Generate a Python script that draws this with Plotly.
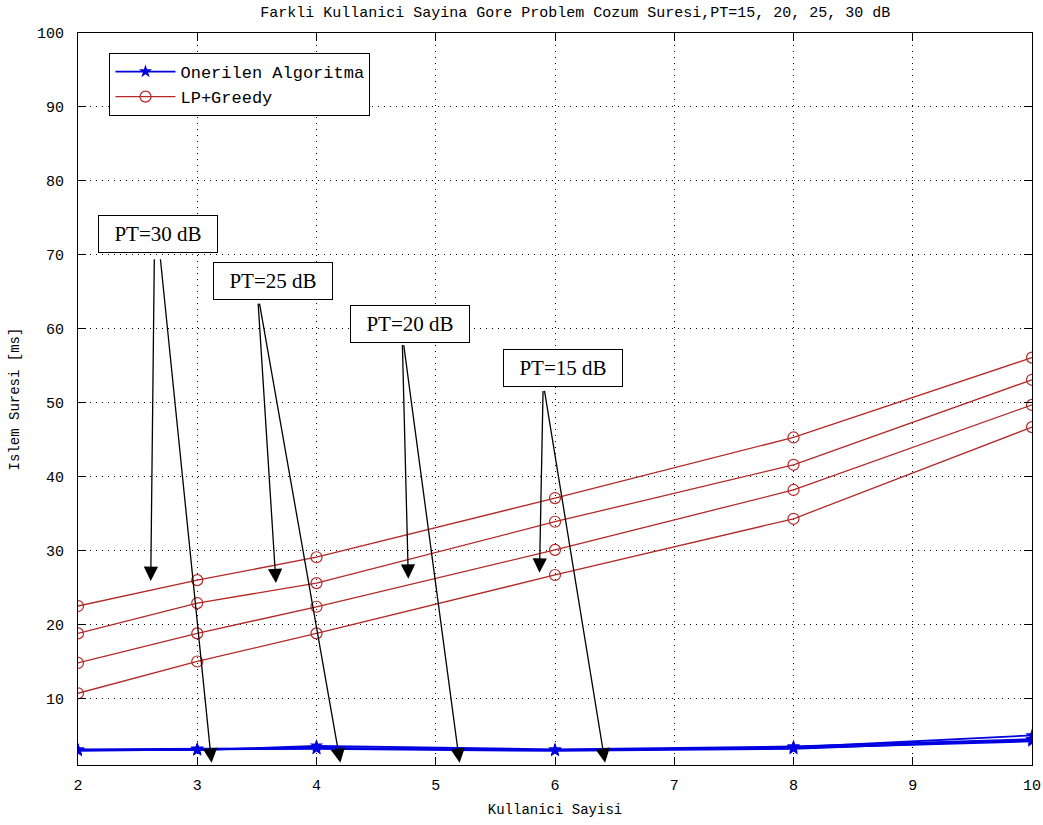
import plotly.graph_objects as go

# Number of users (x axis)
users = [2, 3, 4, 6, 8, 10]

# Proposed algorithm solution time [ms], one series per PT level
proposed_pt15 = [2.9, 3.1, 3.3, 3.0, 3.3, 4.2]
proposed_pt20 = [3.0, 3.0, 3.6, 3.1, 3.5, 4.5]
proposed_pt25 = [3.1, 3.2, 3.3, 3.0, 3.4, 5.0]
proposed_pt30 = [3.0, 3.1, 3.2, 2.9, 3.2, 4.4]

# LP+Greedy solution time [ms], one series per PT level
lpg_pt15 = [10.7, 15.0, 18.8, 26.7, 34.3, 46.7]
lpg_pt20 = [14.8, 18.8, 22.4, 30.1, 38.2, 49.7]
lpg_pt25 = [18.8, 22.9, 25.6, 33.9, 41.6, 53.1]
lpg_pt30 = [22.5, 26.0, 29.1, 37.1, 45.3, 56.1]

x_ticks = [2, 3, 4, 5, 6, 7, 8, 9, 10]
y_ticks = [10, 20, 30, 40, 50, 60, 70, 80, 90, 100]

# PT labels: text box centre, arrow tails, and two arrow heads (red / blue curves)
pt_labels = ["PT=30 dB", "PT=25 dB", "PT=20 dB", "PT=15 dB"]
label_pos = [(2.667, 72.8), (3.631, 66.4), (4.78, 60.7), (6.071, 54.7)]
arrow_tail_red = [(2.64, 69.6), (3.51, 63.6), (4.72, 58.0), (5.90, 51.8)]
arrow_tail_blue = [(2.69, 69.6), (3.52, 63.6), (4.73, 58.0), (5.91, 51.8)]
arrow_head_red = [(2.61, 25.9), (3.66, 25.6), (4.77, 26.2), (5.87, 27.0)]
arrow_head_blue = [(3.12, 1.3), (4.20, 1.3), (5.20, 1.3), (6.42, 1.3)]

BLUE = "rgb(0,0,225)"
RED = "rgb(180,40,40)"
MONO = "Liberation Mono, DejaVu Sans Mono, monospace"

fig = go.Figure()

for i, ys in enumerate([proposed_pt15, proposed_pt20, proposed_pt25, proposed_pt30]):
    fig.add_trace(go.Scatter(
        x=users, y=ys, mode="lines+markers",
        name="Onerilen Algoritma", legendgroup="prop", showlegend=(i == 0),
        line=dict(color=BLUE, width=1.8),
        marker=dict(symbol="star", size=10, color=BLUE),
    ))

for i, ys in enumerate([lpg_pt15, lpg_pt20, lpg_pt25, lpg_pt30]):
    fig.add_trace(go.Scatter(
        x=users, y=ys, mode="lines+markers",
        name="LP+Greedy", legendgroup="lpg", showlegend=(i == 0),
        line=dict(color=RED, width=1.3),
        marker=dict(symbol="circle-open", size=11, color=RED, line=dict(width=1.2)),
    ))

annotations = []
for lbl, (lx, ly), tr, tb, hr, hb in zip(
        pt_labels, label_pos, arrow_tail_red, arrow_tail_blue,
        arrow_head_red, arrow_head_blue):
    for (tx, ty), (hx, hy) in [(tr, hr), (tb, hb)]:
        annotations.append(dict(
            x=hx, y=hy, ax=tx, ay=ty, xref="x", yref="y", axref="x", ayref="y",
            text="", showarrow=True, arrowhead=2, arrowsize=2.2, arrowwidth=1.3,
            arrowcolor="black",
        ))
    annotations.append(dict(
        x=lx, y=ly, xref="x", yref="y", text=lbl, showarrow=False,
        font=dict(family="Liberation Serif, DejaVu Serif, serif", size=21, color="black"),
        width=110, height=28, align="center",
        bgcolor="white", bordercolor="black", borderwidth=1, borderpad=4,
    ))

fig.update_layout(
    width=1043, height=825,
    margin=dict(l=78, r=11, t=33, b=60),
    paper_bgcolor="white", plot_bgcolor="white",
    title=dict(text="Farkli Kullanici Sayina Gore Problem Cozum Suresi,PT=15, 20, 25, 30 dB",
               x=0.5515, xanchor="center", y=0.992, yanchor="top",
               font=dict(family=MONO, size=15, color="black")),
    font=dict(family=MONO, size=14, color="black"),
    legend=dict(x=0.033, y=0.9727, xanchor="left", yanchor="top",
                bgcolor="white", bordercolor="black", borderwidth=1,
                font=dict(family=MONO, size=17, color="black"),
                tracegroupgap=0, itemwidth=60),
    annotations=annotations,
    showlegend=True,
)

fig.update_xaxes(
    range=[2, 10], tickvals=x_ticks, ticktext=[str(v) for v in x_ticks],
    title=dict(text="Kullanici Sayisi", font=dict(family=MONO, size=14), standoff=10),
    showline=True, linecolor="black", linewidth=1, mirror="ticks",
    ticks="inside", ticklen=8, tickcolor="black", ticklabelstandoff=6,
    tickfont=dict(family=MONO, size=15),
    showgrid=True, gridcolor="black", griddash="1px,5px", gridwidth=1,
    zeroline=False, automargin=False,
)
fig.update_yaxes(
    range=[1, 100], tickvals=y_ticks, ticktext=[str(v) for v in y_ticks],
    title=dict(text="Islem Suresi [ms]", font=dict(family=MONO, size=14), standoff=14),
    showline=True, linecolor="black", linewidth=1, mirror="ticks",
    ticks="inside", ticklen=8, tickcolor="black", ticklabelstandoff=10,
    tickfont=dict(family=MONO, size=15),
    showgrid=True, gridcolor="black", griddash="1px,5px", gridwidth=1,
    zeroline=False, automargin=False,
)

fig.write_html("out.html")
